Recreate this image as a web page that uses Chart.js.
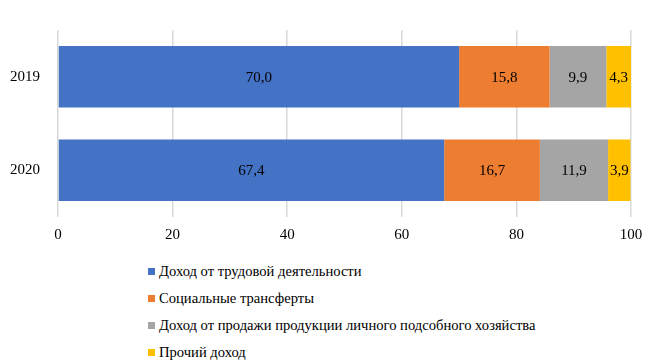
<!DOCTYPE html>
<html>
<head>
<meta charset="utf-8">
<script src="https://cdn.jsdelivr.net/npm/chart.js@4/dist/chart.umd.min.js"></script>
<style>
  html, body { margin: 0; padding: 0; background: #fff; }
  #wrap { position: relative; width: 662px; height: 257px; }
  #legend { margin: 1px 0 0 148px; padding: 0; list-style: none;
    font-family: "Times New Roman", "Liberation Serif", "DejaVu Serif", serif; font-size: 14.6px; color: #000; }
  #legend li { height: 27px; line-height: 27px; display: flex; align-items: center; }
  #legend span.box { width: 7px; height: 7px; margin-right: 4px; display: inline-block; }
</style>
</head>
<body>
<div id="wrap"><canvas id="chart"></canvas></div>
<ul id="legend"></ul>
<script>
// chart data
const years = ['2019', '2020'];
const seriesNames = [
  'Доход от трудовой деятельности',
  'Социальные трансферты',
  'Доход от продажи продукции личного подсобного хозяйства',
  'Прочий доход',
];
const labour = [70.0, 67.4];
const transfers = [15.8, 16.7];
const farming = [9.9, 11.9];
const other = [4.3, 3.9];
const xTicks = [0, 20, 40, 60, 80, 100];

const colors = ['#4472C4', '#ED7D31', '#A5A5A5', '#FFC000'];
const FONT = '"Times New Roman", "Liberation Serif", "DejaVu Serif", serif';

const datasets = [labour, transfers, farming, other].map((values, i) => ({
  label: seriesNames[i],
  data: values,
  backgroundColor: colors[i],
  borderWidth: 0,
  barPercentage: 0.66,
  categoryPercentage: 1,
}));

// value labels centred in every segment
const valueLabels = {
  id: 'valueLabels',
  afterDatasetsDraw(chart) {
    const ctx = chart.ctx;
    ctx.save();
    ctx.font = '15px ' + FONT;
    ctx.fillStyle = '#000';
    ctx.textAlign = 'center';
    ctx.textBaseline = 'middle';
    chart.data.datasets.forEach((ds, i) => {
      chart.getDatasetMeta(i).data.forEach((bar, j) => {
        const p = bar.getCenterPoint();
        ctx.fillText(ds.data[j].toFixed(1).replace('.', ','), p.x, p.y + 1);
      });
    });
    ctx.restore();
  }
};

const chart = new Chart(document.getElementById('chart'), {
  type: 'bar',
  data: { labels: years, datasets: datasets },
  options: {
    indexAxis: 'y',
    responsive: true,
    maintainAspectRatio: false,
    animation: false,
    layout: { padding: { top: 30, right: 31, bottom: 4, left: 0 } },
    plugins: { legend: { display: false }, tooltip: { enabled: false } },
    scales: {
      x: {
        stacked: true,
        min: 0,
        max: 100,
        afterBuildTicks: (axis) => { axis.ticks = xTicks.map(v => ({ value: v })); },
        grid: { color: '#D9D9D9', lineWidth: 1.5, drawTicks: false },
        border: { display: false },
        ticks: { color: '#000', font: { family: FONT, size: 15 }, padding: 9 },
      },
      y: {
        stacked: true,
        grid: { display: false },
        border: { display: false },
        ticks: { color: '#000', font: { family: FONT, size: 15 }, padding: 10 },
      },
    },
  },
  plugins: [valueLabels],
});

// legend list built from the chart's datasets
const legend = document.getElementById('legend');
chart.data.datasets.forEach(ds => {
  const li = document.createElement('li');
  const box = document.createElement('span');
  box.className = 'box';
  box.style.background = ds.backgroundColor;
  li.appendChild(box);
  li.appendChild(document.createTextNode(ds.label));
  legend.appendChild(li);
});
</script>
</body>
</html>
